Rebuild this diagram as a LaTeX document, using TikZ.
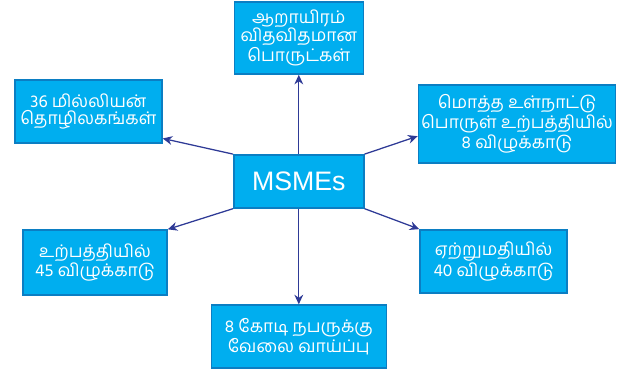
\documentclass[tikz,border=0pt]{standalone}
\usepackage{fontspec}
\setmainfont{Liberation Sans}
\newfontfamily\tamilfont[Script=Tamil]{Hind Madurai}
\usetikzlibrary{arrows.meta}

\definecolor{tileF}{HTML}{00AEEF}
\definecolor{tileE}{HTML}{0B7EC3}
\definecolor{arrC}{HTML}{2E3A96}

\begin{document}
\begin{tikzpicture}[
  tile/.style={draw=tileE, fill=tileF, line width=1.1pt, minimum width=#1,
               align=center, inner sep=2pt, text=white,
               font=\tamilfont\fontsize{12.4}{12.6}\selectfont},
  arr/.style={draw=arrC, line width=0.9pt, -{Stealth[length=2.4mm, width=2.2mm]}},
]
\useasboundingbox (0,0) rectangle (15.5,9.225);

% hub
\node[tile=3.25cm, minimum height=1.325cm, font=\fontsize{19}{21}\selectfont] (m) at (7.47,4.69) {MSMEs};

% surrounding boxes
\node[tile=3.225cm, minimum height=1.8cm] (top) at (7.47,8.275) {ஆறாயிரம்\\விதவிதமான\\பொருட்கள்};
\node[tile=3.675cm, minimum height=1.575cm] (lu) at (2.21,6.44) {36 மில்லியன்\\தொழிலகங்கள்};
\node[tile=4.75cm, minimum height=1.95cm] (ru) at (12.925,6.125) {மொத்த உள்நாட்டு\\பொருள் உற்பத்தியில்\\8 விழுக்காடு};
\node[tile=3.6cm, minimum height=1.625cm] (ll) at (2.375,2.66) {உற்பத்தியில்\\45 விழுக்காடு};
\node[tile=3.675cm, minimum height=1.575cm] (rl) at (12.34,2.69) {ஏற்றுமதியில்\\40 விழுக்காடு};
\node[tile=4.375cm, minimum height=1.575cm] (bot) at (7.47,0.81) {8 கோடி நபருக்கு\\வேலை வாய்ப்பு};

% connectors
\draw[arr] (m.north) -- (top.south);
\draw[arr] (m.north west) -- (lu.340);
\draw[arr] (m.north east) -- (ru.187);
\draw[arr] (m.south west) -- (ll.north east);
\draw[arr] (m.south east) -- (rl.north west);
\draw[arr] (m.south) -- (bot.north);
\end{tikzpicture}
\end{document}
